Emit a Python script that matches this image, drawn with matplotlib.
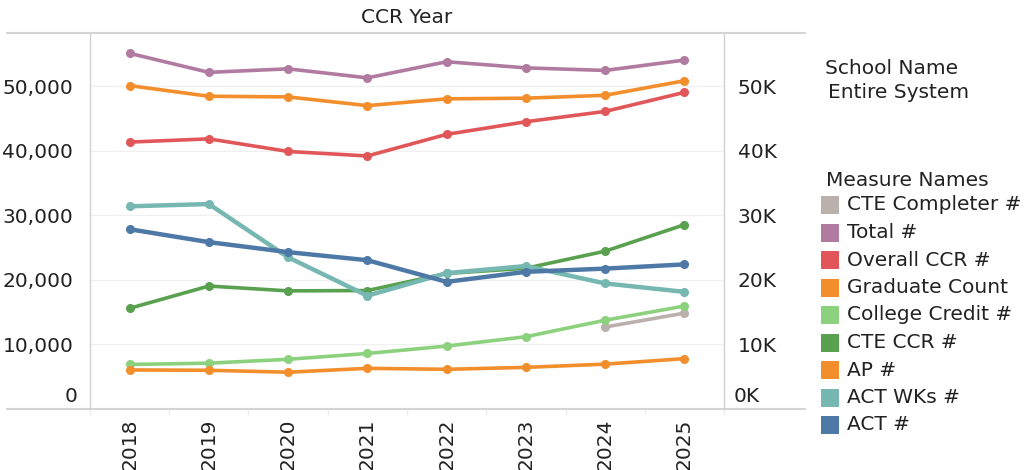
import matplotlib
matplotlib.use('Agg')
import matplotlib.pyplot as plt
import matplotlib.transforms as mtransforms
from matplotlib.lines import Line2D
from matplotlib.patches import Rectangle

# data
years = ['2018', '2019', '2020', '2021', '2022', '2023', '2024', '2025']
cte_completer = [None, None, None, None, None, None, 12700, 14850]
total = [55100, 52150, 52700, 51300, 53800, 52850, 52450, 54050]
overall_ccr = [41350, 41850, 39900, 39200, 42550, 44500, 46100, 49050]
graduate_count = [50100, 48450, 48350, 47000, 48050, 48150, 48600, 50850]
college_credit = [6900, 7100, 7700, 8600, 9750, 11200, 13750, 15950]
cte_ccr = [15600, 19050, 18300, 18350, 21000, 21800, 24450, 28550]
ap = [6050, 6000, 5700, 6300, 6150, 6450, 6950, 7800]
act_wks = [31400, 31750, 23500, 17550, 21050, 22150, 19450, 18150]
act = [27850, 25850, 24300, 23050, 19700, 21250, 21750, 22400]

measures = ['CTE Completer #', 'Total #', 'Overall CCR #', 'Graduate Count',
            'College Credit #', 'CTE CCR #', 'AP #', 'ACT WKs #', 'ACT #']
series = [cte_completer, total, overall_ccr, graduate_count,
          college_credit, cte_ccr, ap, act_wks, act]
colors = ['#BAB0AC', '#B07AA1', '#E15759', '#F28E2B',
          '#8CD17D', '#59A14F', '#F28E2B', '#76B7B2', '#4E79A7']
left_ticks = [0, 10000, 20000, 30000, 40000, 50000]

txt = '#222222'
fs = 14.5
plt.rcParams['font.family'] = ['DejaVu Sans']

fig = plt.figure(figsize=(10.35, 4.70), dpi=100)
ax = fig.add_axes([90 / 1035, 1 - 409 / 470, 634 / 1035, 376 / 470])
ymax = 58250

x = list(range(len(years)))
for name, vals, c in zip(measures, series, colors):
    pts = [(i, v) for i, v in zip(x, vals) if v is not None]
    xs = [p[0] for p in pts]
    ys = [p[1] for p in pts]
    lw = 3.2 if name in ('ACT #', 'ACT WKs #') else 2.6
    ax.plot(xs, ys, color=c, lw=lw, marker='o', ms=5.5, solid_capstyle='round', zorder=3)

ax.set_xlim(-0.5, 7.5)
ax.set_ylim(0, ymax)
ax.set_xticks(x)
ax.set_xticklabels(years, rotation=90, fontsize=fs, color=txt)
ax.set_xticks([i - 0.5 for i in range(len(years) + 1)], minor=True)
ax.tick_params(axis='x', which='major', length=0, pad=7)
ax.tick_params(axis='x', which='minor', length=4, color='#ededed', width=1)

ax.set_yticks(left_ticks)
ax.set_yticklabels(['' if v == 0 else f'{v:,}' for v in left_ticks], fontsize=fs, color=txt)
ax.tick_params(axis='y', length=0, pad=12)
ax.grid(axis='y', color='#f0f0f0', lw=1)
ax.set_axisbelow(True)
for s in ['top', 'bottom']:
    ax.spines[s].set_visible(False)
for s in ['left', 'right']:
    ax.spines[s].set_color('#d4d4d4')
    ax.spines[s].set_linewidth(1)

# zero labels sit slightly above the baseline
off = mtransforms.offset_copy(ax.get_yaxis_transform(), fig=fig, x=-12, y=13, units='dots')
ax.text(0, 0, '0', transform=off, ha='right', va='center', fontsize=fs, color=txt)

ax2 = ax.twinx()
ax2.set_ylim(0, ymax)
ax2.set_yticks(left_ticks)
ax2.set_yticklabels(['' if v == 0 else f'{v // 1000}K' for v in left_ticks], fontsize=fs, color=txt)
ax2.tick_params(axis='y', length=0, pad=10)
for s in ['top', 'bottom', 'left']:
    ax2.spines[s].set_visible(False)
ax2.spines['right'].set_color('#d4d4d4')
off2 = mtransforms.offset_copy(ax2.get_yaxis_transform(), fig=fig, x=10, y=13, units='dots')
ax2.text(1, 0, '0K', transform=off2, ha='left', va='center', fontsize=fs, color=txt)

# long header/footer rules
for yy in (33, 409):
    fig.add_artist(Line2D([7 / 1035, 805 / 1035], [1 - yy / 470, 1 - yy / 470],
                          color='#d4d4d4', lw=1.5))

ax.set_title('CCR Year', fontsize=fs, color=txt, pad=7)

# legend on the right
def fy(py):
    return 1 - py / 470

fig.text(825 / 1035, fy(68), 'School Name', fontsize=fs, color=txt, va='center')
fig.text(828 / 1035, fy(92), 'Entire System', fontsize=fs, color=txt, va='center')
fig.text(826 / 1035, fy(180), 'Measure Names', fontsize=fs, color=txt, va='center')
row0 = 205
step = 27.5
for k, (name, c) in enumerate(zip(measures, colors)):
    cy = row0 + k * step
    fig.add_artist(Rectangle((821 / 1035, fy(cy + 9)), 18 / 1035, 18 / 470,
                             facecolor=c, edgecolor='none', transform=fig.transFigure))
    fig.text(847 / 1035, fy(cy), name, fontsize=fs, color=txt, va='center')

fig.savefig('out.png', dpi=100)
